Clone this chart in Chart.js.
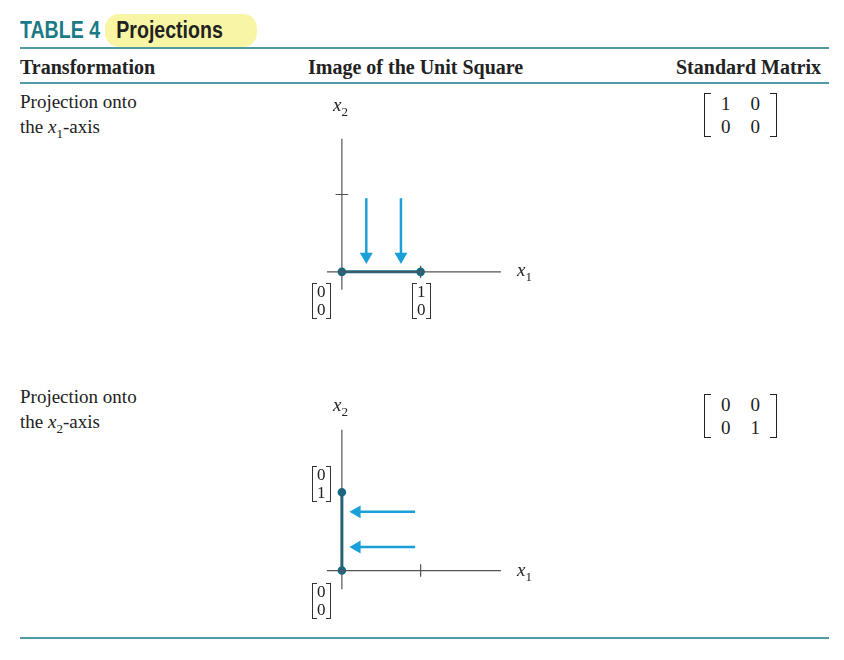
<!DOCTYPE html>
<html><head><meta charset="utf-8">
<script src="https://cdn.jsdelivr.net/npm/chart.js@4"></script>
<style>
body{margin:0;width:844px;height:660px;background:#fff;font-family:"Liberation Serif",serif;color:#222;position:relative;overflow:hidden}
.abs{position:absolute}
.title{left:20px;top:17px;font-family:"Liberation Sans",sans-serif;font-weight:bold;font-size:23px;transform:scaleX(0.85);transform-origin:left}
.title .t{color:#1a7a85}
.hl{left:105px;top:14px;width:152px;height:33px;background:#f7f59a;border-radius:14px;opacity:.9}
.rule{left:20px;width:809px;background:#4f9aa5}
.head{top:56px;font-weight:bold;font-size:20px}
.row{font-size:19px;line-height:25px}
.mat{position:absolute;font-size:19px;line-height:23px;padding:0 7px}
.mat:before,.mat:after{content:"";position:absolute;top:1px;bottom:1px;width:6px;border:1.4px solid #222}
.mat:before{left:0;border-right:none}.mat:after{right:0;border-left:none}
.mat td{padding:0 10px;text-align:center}
.vec{position:absolute;font-size:17px;line-height:18px;padding:0 5px;text-align:center}
.vec:before,.vec:after{content:"";position:absolute;top:0;bottom:0;width:4px;border:1.2px solid #333}
.vec:before{left:0;border-right:none}.vec:after{right:0;border-left:none}
.lab{position:absolute;font-style:italic;font-size:19px}
.lab sub{font-style:normal;font-size:13px}
canvas{position:absolute}
</style></head><body>
<div class="abs hl"></div>
<div class="abs title"><span class="t">TABLE 4</span>&nbsp;&nbsp;&nbsp;Projections</div>
<div class="abs rule" style="top:47px;height:2px"></div>
<div class="abs head" style="left:20px">Transformation</div>
<div class="abs head" style="left:308px">Image of the Unit Square</div>
<div class="abs head" style="left:676px">Standard Matrix</div>
<div class="abs rule" style="top:82px;height:1.5px"></div>
<div class="abs row" style="left:20px;top:89px">Projection onto<br>the <i>x</i><sub style="font-size:13px">1</sub>-axis</div>
<div class="abs row" style="left:20px;top:384px">Projection onto<br>the <i>x</i><sub style="font-size:13px">2</sub>-axis</div>
<div class="mat" style="left:704px;top:92px"><table cellspacing="0"><tr><td>1</td><td>0</td></tr><tr><td>0</td><td>0</td></tr></table></div>
<div class="mat" style="left:704px;top:393px"><table cellspacing="0"><tr><td>0</td><td>0</td></tr><tr><td>0</td><td>1</td></tr></table></div>
<div class="abs rule" style="top:637px;height:2px"></div>

<canvas id="c1" width="240" height="220" style="left:295px;top:105px"></canvas>
<canvas id="c2" width="240" height="220" style="left:295px;top:405px"></canvas>

<div class="lab" style="left:333px;top:94px">x<sub>2</sub></div>
<div class="lab" style="left:517px;top:259px">x<sub>1</sub></div>
<div class="vec" style="left:312px;top:283px">0<br>0</div>
<div class="vec" style="left:412px;top:283px">1<br>0</div>
<div class="lab" style="left:333px;top:394px">x<sub>2</sub></div>
<div class="lab" style="left:517px;top:559px">x<sub>1</sub></div>
<div class="vec" style="left:312px;top:466px">0<br>1</div>
<div class="vec" style="left:312px;top:583px">0<br>0</div>

<script>
// diagram 1: projection onto x1-axis
var axis1X = [{x:-0.19,y:0},{x:2.02,y:0}];
var axis1Y = [{x:0,y:-0.23},{x:0,y:1.72}];
var ticks1 = [[{x:-0.08,y:1},{x:0.08,y:1}],[{x:1,y:-0.08},{x:1,y:0.08}]];
var image1 = [{x:0,y:0},{x:1,y:0}];
var arrows1 = [[{x:0.31,y:0.95},{x:0.31,y:0.2}],[{x:0.75,y:0.95},{x:0.75,y:0.2}]];
// diagram 2: projection onto x2-axis
var axis2X = [{x:-0.19,y:0},{x:2.02,y:0}];
var axis2Y = [{x:0,y:-0.24},{x:0,y:1.8}];
var ticks2 = [[{x:1,y:-0.08},{x:1,y:0.08}]];
var image2 = [{x:0,y:0},{x:0,y:1}];
var arrows2 = [[{x:0.93,y:0.75},{x:0.19,y:0.75}],[{x:0.93,y:0.3},{x:0.19,y:0.3}]];

var gray = '#555', blue = '#1aa0d8', dark = '#0d6a8a';
function line(d, c, w){ return {data:d, borderColor:c, borderWidth:w, showLine:true, pointRadius:0}; }
function arrow(d, rot){
  return {data:d, borderColor:blue, backgroundColor:blue, borderWidth:2.5, showLine:true,
    pointStyle:'triangle', pointRadius:[0,5], pointRotation:rot};
}
function draw(id, sets, ymin, ymax){
  new Chart(document.getElementById(id), {
    type:'scatter',
    data:{datasets:sets},
    options:{responsive:false, animation:false, layout:{padding:0},
      plugins:{legend:{display:false}, tooltip:{enabled:false}},
      scales:{x:{display:false,min:-0.5,max:2.357}, y:{display:false,min:ymin,max:ymax}}}
  });
}
var s1 = [line(axis1X,gray,1.2), line(axis1Y,gray,1.2)];
ticks1.forEach(function(t){ s1.push(line(t,gray,1.2)); });
s1.push({data:image1, borderColor:dark, backgroundColor:dark, borderWidth:3, showLine:true, pointRadius:2.8});
arrows1.forEach(function(a){ s1.push(arrow(a,180)); });
draw('c1', s1, -0.59, 2.06);

var s2 = [line(axis2X,gray,1.2), line(axis2Y,gray,1.2)];
ticks2.forEach(function(t){ s2.push(line(t,gray,1.2)); });
s2.push({data:image2, borderColor:dark, backgroundColor:dark, borderWidth:3, showLine:true, pointRadius:2.8});
arrows2.forEach(function(a){ s2.push(arrow(a,-90)); });
draw('c2', s2, -0.6, 2.02);
</script>
</body></html>
